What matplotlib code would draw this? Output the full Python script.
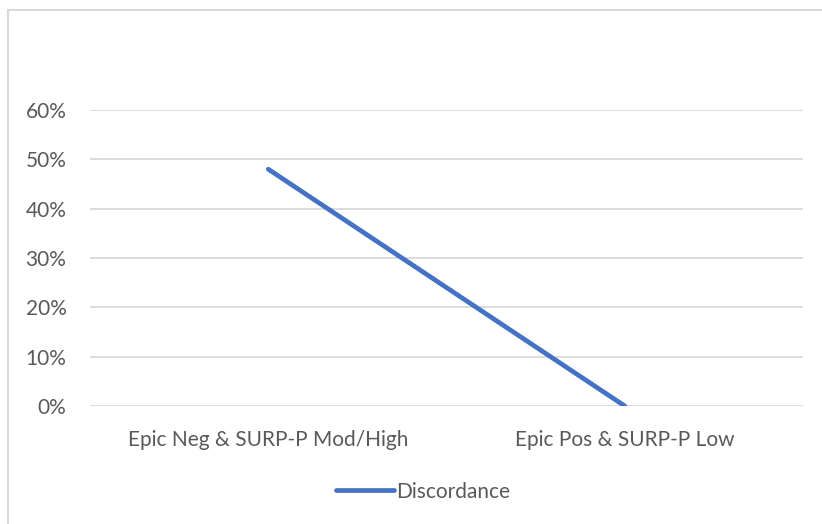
import matplotlib
matplotlib.use("Agg")
import matplotlib.pyplot as plt
from matplotlib.lines import Line2D
from matplotlib.ticker import PercentFormatter

categories = ["Epic Neg & SURP-P Mod/High", "Epic Pos & SURP-P Low"]
discordance = [0.48, 0.0]
yticks = [0.0, 0.1, 0.2, 0.3, 0.4, 0.5, 0.6]

plt.rcParams['font.family'] = ['Lato', 'DejaVu Sans']
text_col = '#595959'

fig = plt.figure(figsize=(8.22, 5.24), dpi=100)
ax = fig.add_axes([0.1095, 0.2252, 0.8674, 0.5649])

x = range(len(categories))
ax.plot(x, discordance, color='#4472C4', lw=3.4, solid_capstyle='round',
        label='Discordance')

ax.set_xlim(-0.5, len(categories) - 0.5)
ax.set_ylim(0, 0.6)
ax.set_yticks(yticks)
ax.yaxis.set_major_formatter(PercentFormatter(1.0, decimals=0))
ax.set_xticks(list(x))
ax.set_xticklabels(categories)
ax.grid(axis='y', color='#d9d9d9', lw=1.3)
ax.set_axisbelow(True)
for s in ax.spines.values():
    s.set_visible(False)
ax.tick_params(length=0, labelsize=15, colors=text_col)
ax.tick_params(axis='x', pad=17)
ax.tick_params(axis='y', pad=17)

leg = fig.legend(loc='center', bbox_to_anchor=(0.515, 0.062), frameon=False,
                 fontsize=15, handlelength=2.8, handletextpad=0.1)
for t in leg.get_texts():
    t.set_color(text_col)

# chart border (left and top edges visible)
fig.add_artist(Line2D([0.0097, 0.0097], [0, 0.981], color='#d9d9d9', lw=1.5))
fig.add_artist(Line2D([0.0097, 1.0], [0.981, 0.981], color='#d9d9d9', lw=1.5))

fig.savefig('out.png', dpi=100)
